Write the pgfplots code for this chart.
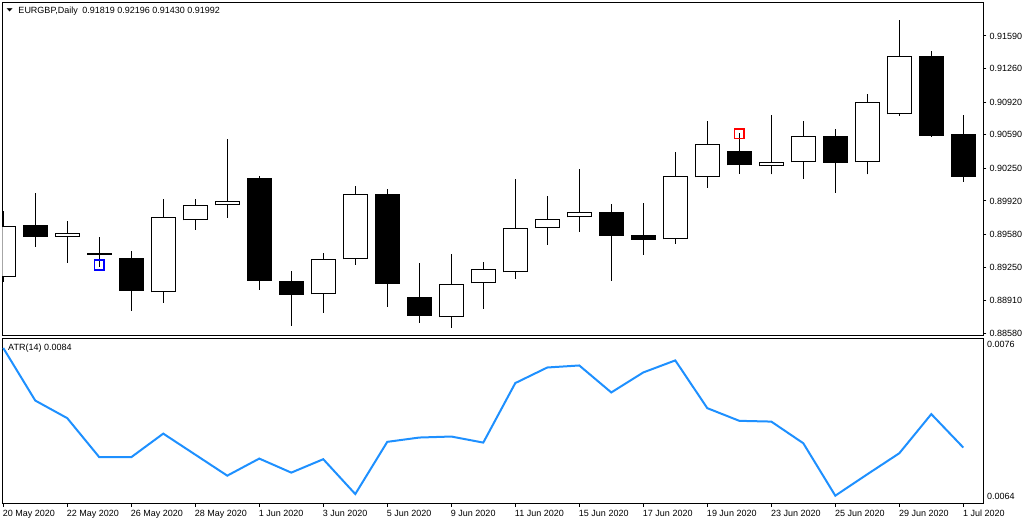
\documentclass[border=0pt]{standalone}
\usepackage{pgfplots}
\pgfplotsset{compat=1.18}
\usepackage{pgfplotstable}
\usepackage{graphicx}
\usepackage{fontspec}
\setmainfont{Liberation Sans}
\newfontfamily\dejavu{DejaVu Sans}
\definecolor{atrblue}{RGB}{30,144,255}

% bullish (white) candles: index, open, high, low, close
\pgfplotstableread{
i o h l c
0 0.89147 0.89821 0.89102 0.89663
2 0.89558 0.89717 0.89295 0.89592
5 0.88995 0.89940 0.88890 0.89754
6 0.89724 0.89940 0.89629 0.89876
7 0.89876 0.90550 0.89750 0.89916
10 0.88975 0.89393 0.88789 0.89329
11 0.89329 0.90074 0.89272 0.89987
14 0.88742 0.89383 0.88637 0.89076
15 0.89086 0.89302 0.88829 0.89228
16 0.89198 0.90142 0.89133 0.89643
17 0.89643 0.89970 0.89477 0.89734
18 0.89754 0.90243 0.89609 0.89805
21 0.89532 0.90415 0.89487 0.90170
22 0.90159 0.90729 0.90054 0.90493
24 0.90271 0.90790 0.90190 0.90311
25 0.90311 0.90729 0.90145 0.90574
27 0.90311 0.91003 0.90190 0.90919
28 0.90797 0.91752 0.90783 0.91384
}\bull

% bearish (black) candles: index, open, high, low, close
\pgfplotstableread{
i o h l c
1 0.89673 0.90000 0.89457 0.89558
3 0.89393 0.89555 0.89256 0.89373
4 0.89342 0.89413 0.88809 0.89011
8 0.90149 0.90173 0.89021 0.89113
9 0.89110 0.89211 0.88657 0.88971
12 0.89990 0.90041 0.88849 0.89082
13 0.88948 0.89292 0.88687 0.88758
19 0.89808 0.89889 0.89113 0.89568
20 0.89575 0.89902 0.89376 0.89528
23 0.90426 0.90605 0.90196 0.90281
26 0.90578 0.90648 0.90003 0.90307
29 0.91387 0.91438 0.90570 0.90581
30 0.90598 0.90790 0.90115 0.90165
}\bear

% ATR(14)
\pgfplotstableread{
i a
0 0.007574
1 0.007159
2 0.007020
3 0.006712
4 0.006712
5 0.006898
6 0.006732
7 0.006566
8 0.006701
9 0.006590
10 0.006696
11 0.006421
12 0.006833
13 0.006867
14 0.006875
15 0.006827
16 0.007297
17 0.007420
18 0.007436
19 0.007223
20 0.007381
21 0.007476
22 0.007099
23 0.006999
24 0.006993
25 0.006822
26 0.006408
27 0.006577
28 0.006743
29 0.007052
30 0.006788
}\atr

\pgfplotsset{
  candle/.style={only marks, mark=*, mark size=0pt,
    mark options={draw=none, fill=none}, forget plot,
    error bars/.cd, y dir=plus, y explicit, error mark=none},
}

\begin{document}
\begin{tikzpicture}
\useasboundingbox (0bp,0bp) rectangle (1029bp,525bp);
% ---------------- price panel ----------------
\begin{axis}[
  at={(2.3bp,189.3bp)}, anchor=south west,
  scale only axis, width=981bp, height=333.4bp,
  xmin=-0.03, xmax=30.625, ymin=0.885557, ymax=0.91931,
  scaled y ticks=false, scaled x ticks=false,
  axis line style={line width=1bp, black},
  xtick=\empty,
  ytick={0.88580,0.88910,0.89250,0.89580,0.89920,0.90250,0.90590,0.90920,0.91260,0.91590},
  yticklabels={0.88580,0.88910,0.89250,0.89580,0.89920,0.90250,0.90590,0.90920,0.91260,0.91590},
  ytick pos=right, yticklabel pos=right,
  tick align=outside, major tick length=3bp,
  y tick style={line width=1bp, black},
  yticklabel style={font=\fontsize{9bp}{10bp}\selectfont, anchor=west, inner sep=0pt, xshift=3bp},
]
% wicks
\addplot[candle, error bar style={line width=1bp, black}]
  table[x=i, y=l, y error plus expr=\thisrow{h}-\thisrow{l}] {\bull};
\addplot[candle, error bar style={line width=1bp, black}]
  table[x=i, y=l, y error plus expr=\thisrow{h}-\thisrow{l}] {\bear};
% bearish bodies
\addplot[candle, error bar style={line width=24.5bp, black}]
  table[x=i, y=c, y error plus expr=\thisrow{o}-\thisrow{c}] {\bear};
% bullish bodies: outline, then white inside
\addplot[candle, error bar style={line width=24.5bp, black}]
  table[x=i, y=o, y error plus expr=\thisrow{c}-\thisrow{o}] {\bull};
\addplot[candle, error bar style={line width=22.5bp, white}]
  table[x=i, y expr=\thisrow{o}+0.0001, y error plus expr=\thisrow{c}-\thisrow{o}-0.0002] {\bull};
% markers
\addplot[only marks, mark=square, mark size=4.8bp, mark options={draw=blue, line width=1.7bp, fill=none}]
  coordinates {(3,0.89271)};
\addplot[only marks, mark=square, mark size=4.8bp, mark options={draw=red, line width=1.7bp, fill=none}]
  coordinates {(23,0.90601)};
\end{axis}
% ---------------- ATR panel ----------------
\begin{axis}[
  at={(2.3bp,21.3bp)}, anchor=south west,
  scale only axis, width=981bp, height=165bp,
  xmin=-0.03, xmax=30.625, ymin=0.0063447, ymax=0.0076474,
  scaled y ticks=false, scaled x ticks=false,
  axis line style={line width=1bp, black},
  xtick={0,2,...,30},
  xticklabels={20 May 2020,22 May 2020,26 May 2020,28 May 2020,1 Jun 2020,3 Jun 2020,5 Jun 2020,9 Jun 2020,11 Jun 2020,15 Jun 2020,17 Jun 2020,19 Jun 2020,23 Jun 2020,25 Jun 2020,29 Jun 2020,1 Jul 2020},
  xtick pos=bottom,
  tick align=outside, major tick length=3bp,
  x tick style={line width=1bp, black},
  xticklabel style={font=\fontsize{9bp}{10bp}\selectfont, anchor=north west, inner sep=0pt, xshift=-0.5bp, yshift=-3.5bp},
  ytick={0.0064,0.0076}, yticklabels={0.0064,0.0076},
  ytick pos=right, yticklabel pos=right,
  y tick style={draw=none},
  yticklabel style={font=\fontsize{9bp}{10bp}\selectfont, anchor=west, inner sep=0pt, xshift=0.5bp},
]
\addplot[color=atrblue, line width=2bp, mark=none] table[x=i, y=a] {\atr};
\end{axis}
% ---------------- texts ----------------
\node[anchor=base west, inner sep=0pt, font=\fontsize{9bp}{10bp}\selectfont] at (18.3bp,511bp)
  {EURGBP,Daily\hspace{4.5bp}0.91819 0.92196 0.91430 0.91992};
\node[anchor=center, inner sep=0pt] at (9.7bp,514.5bp)
  {\scalebox{1}[0.55]{\dejavu\fontsize{8bp}{8bp}\selectfont ▼}};
\node[anchor=base west, inner sep=0pt, font=\fontsize{9bp}{10bp}\selectfont] at (8bp,174.3bp)
  {ATR(14) 0.0084};
\end{tikzpicture}
\end{document}
